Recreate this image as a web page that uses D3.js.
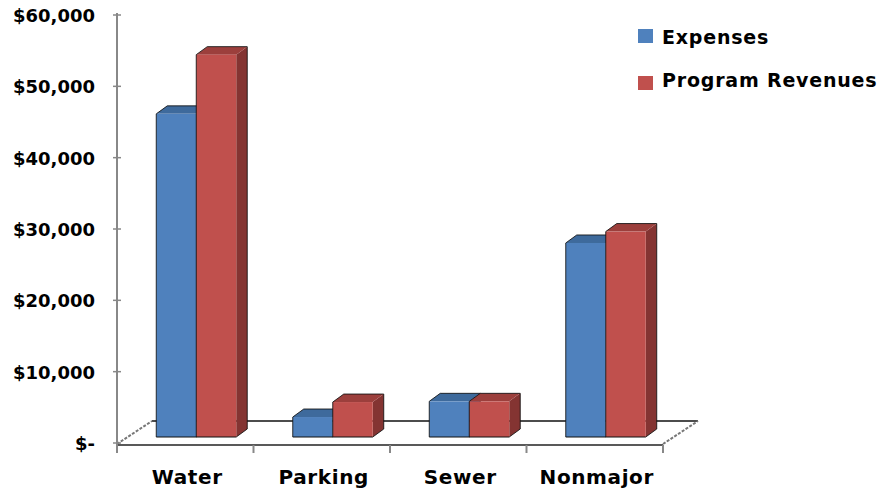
<!DOCTYPE html>
<html>
<head>
<meta charset="utf-8">
<script src="https://cdn.jsdelivr.net/npm/d3@7/dist/d3.min.js"></script>
<style>
  html, body { margin: 0; padding: 0; background: #fff; }
  svg { display: block; }
  text { font-family: "DejaVu Sans", Verdana, sans-serif; font-weight: bold; fill: #000; }
</style>
</head>
<body>
<svg id="chart" width="883" height="493"></svg>
<script>
// Program expenses vs. program revenues by fund
const categories = ["Water", "Parking", "Sewer", "Nonmajor"];
const seriesNames = ["Expenses", "Program Revenues"];
const expenses = [45300, 2800, 5000, 27200];
const revenues = [53600, 4900, 5000, 28800];
const yTicks = [0, 10000, 20000, 30000, 40000, 50000, 60000];

const W = 883, H = 493;
const svg = d3.select("#chart");

// front plane of the plot
const x0 = 117, x1 = 663;
const y = d3.scaleLinear().domain([0, 60000]).range([443, 15]);

// oblique projection of the floor depth
const floorDx = 35, floorDy = -23;
// bars sit a little behind the front edge, with their own shallow depth
const barShiftX = 11, barShiftY = -6;
const barDx = 11, barDy = -8;

const x = d3.scaleBand().domain(categories).range([x0, x1])
  .paddingInner(0.414).paddingOuter(0.207);
const xs = d3.scaleBand().domain(seriesNames).range([0, x.bandwidth()]);

const colors = {
  "Expenses": { front: "#4F81BD", top: "#3E6A9C", side: "#355B87" },
  "Program Revenues": { front: "#C0504D", top: "#9C3F3C", side: "#843432" }
};

const fmt = v => v === 0 ? "$-" : "$" + d3.format(",")(v);

// ---- floor ----
const fl = svg.append("g");
const fy = y(0) + 1;
// back edge of the floor
fl.append("line")
  .attr("x1", x0 + floorDx).attr("y1", fy + floorDy)
  .attr("x2", x1 + floorDx).attr("y2", fy + floorDy)
  .attr("stroke", "#111").attr("stroke-width", 1.5);
// left and right sides
[x0, x1].forEach(xx => {
  fl.append("line")
    .attr("x1", xx).attr("y1", fy)
    .attr("x2", xx + floorDx).attr("y2", fy + floorDy)
    .attr("stroke", "#777").attr("stroke-width", 2)
    .attr("stroke-dasharray", "3,1.5");
});

// ---- bars ----
const data = categories.map((c, i) => ({
  cat: c,
  vals: [{ s: "Expenses", v: expenses[i] }, { s: "Program Revenues", v: revenues[i] }]
}));

const bars = svg.append("g");
data.forEach(d => {
  d.vals.forEach(b => {
    const c = colors[b.s];
    const xl = x(d.cat) + xs(b.s) + barShiftX;
    const xr = xl + xs.bandwidth();
    const yb = y(0) + barShiftY;
    const yt = y(b.v) + barShiftY;
    const g = bars.append("g");
    // right side face
    g.append("polygon")
      .attr("points", [[xr, yt], [xr + barDx, yt + barDy], [xr + barDx, yb + barDy], [xr, yb]].join(" "))
      .attr("fill", c.side);
    // top face
    g.append("polygon")
      .attr("points", [[xl, yt], [xl + barDx, yt + barDy], [xr + barDx, yt + barDy], [xr, yt]].join(" "))
      .attr("fill", c.top);
    // front face
    g.append("rect")
      .attr("x", xl).attr("y", yt)
      .attr("width", xs.bandwidth()).attr("height", yb - yt)
      .attr("fill", c.front);
    // dark silhouette along the left, top and right edges
    g.append("path")
      .attr("d", d3.line()([[xl, yb], [xl, yt], [xl + barDx, yt + barDy], [xr + barDx, yt + barDy], [xr + barDx, yb + barDy], [xr, yb]]))
      .attr("fill", "none").attr("stroke", "#111").attr("stroke-width", 1)
      .attr("stroke-opacity", 0.85);
  });
  // bottom edge of the pair
  const xl = x(d.cat) + barShiftX;
  bars.append("line")
    .attr("x1", xl).attr("x2", xl + x.bandwidth())
    .attr("y1", y(0) + barShiftY).attr("y2", y(0) + barShiftY)
    .attr("stroke", "#111").attr("stroke-width", 1);
});

// front edge of the floor
svg.append("line")
  .attr("x1", x0).attr("y1", fy + 1).attr("x2", x1).attr("y2", fy + 1)
  .attr("stroke", "#222").attr("stroke-width", 1.5);

// ---- y axis ----
const ya = svg.append("g");
ya.append("line")
  .attr("x1", x0).attr("x2", x0)
  .attr("y1", y(60000) - 2).attr("y2", y(0) + 2)
  .attr("stroke", "#888").attr("stroke-width", 2);
ya.selectAll("line.tick").data(yTicks).join("line")
  .attr("class", "tick")
  .attr("x1", x0 - 4).attr("x2", x0 + 4)
  .attr("y1", d => y(d)).attr("y2", d => y(d))
  .attr("stroke", "#888").attr("stroke-width", 1.5);
ya.selectAll("text").data(yTicks).join("text")
  .attr("x", 95).attr("y", d => y(d) + 7)
  .attr("text-anchor", "end")
  .attr("font-size", 18)
  .text(fmt);

// ---- x axis ticks and labels ----
const xTicks = categories.map(c => x(c) - x.step() * x.paddingInner() / 2).concat([x1]);
xTicks[0] = x0;
svg.selectAll("line.xt").data(xTicks).join("line")
  .attr("class", "xt")
  .attr("x1", d => d).attr("x2", d => d)
  .attr("y1", fy + 1).attr("y2", fy + 9)
  .attr("stroke", "#888").attr("stroke-width", 2);
svg.selectAll("text.xl").data(categories).join("text")
  .attr("class", "xl")
  .attr("x", d => x(d) + x.bandwidth() / 2 + 2)
  .attr("y", 484)
  .attr("text-anchor", "middle")
  .attr("font-size", 20)
  .attr("letter-spacing", 0.6)
  .text(d => d);

// ---- legend ----
const lg = svg.append("g");
seriesNames.forEach((s, i) => {
  lg.append("rect")
    .attr("x", 638).attr("y", 29 + i * 47)
    .attr("width", 15).attr("height", 14)
    .attr("fill", colors[s].front);
  lg.append("text")
    .attr("x", 662).attr("y", 44 + i * 43)
    .attr("font-size", 19)
    .attr("letter-spacing", 0.8)
    .text(s);
});
</script>
</body>
</html>
